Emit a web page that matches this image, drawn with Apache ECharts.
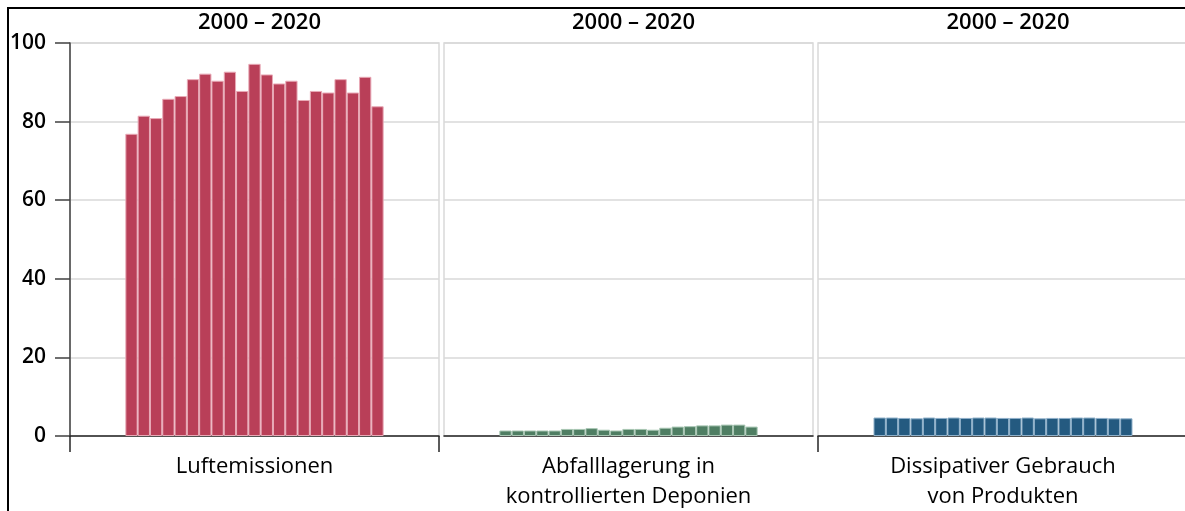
<!DOCTYPE html>
<html><head><meta charset="utf-8">
<script src="https://cdn.jsdelivr.net/npm/echarts@6/dist/echarts.min.js"></script>
<style>
html,body{margin:0;padding:0;background:#fff;overflow:hidden;width:1185px;height:511px}
#c{width:1200px;height:511px}
#f{position:absolute;left:7px;top:7px;width:1178px;height:504px;border-left:2px solid #000;border-top:2px solid #000;pointer-events:none;box-sizing:border-box}
</style>
</head><body><div id="c"></div><div id="f"></div>
<script>
// ---- data ----
const years = [2000,2001,2002,2003,2004,2005,2006,2007,2008,2009,2010,2011,2012,2013,2014,2015,2016,2017,2018,2019,2020];
const categories = ['Luftemissionen', 'Abfalllagerung in\nkontrollierten Deponien', 'Dissipativer Gebrauch\nvon Produkten'];
const periodLabel = '2000 – 2020';
const luftemissionen = [76.9,81.5,80.9,85.8,86.5,90.8,92.2,90.4,92.7,87.8,94.7,92.0,89.7,90.4,85.5,87.8,87.4,90.8,87.4,91.4,83.9];
const abfalllagerung = [1.4,1.4,1.4,1.4,1.4,1.8,1.8,2.0,1.6,1.4,1.8,1.8,1.6,2.1,2.4,2.5,2.7,2.7,2.9,2.9,2.4];
const dissipativ = [4.7,4.7,4.6,4.5,4.7,4.6,4.7,4.6,4.7,4.7,4.6,4.6,4.7,4.5,4.6,4.6,4.7,4.7,4.6,4.5,4.5];
const yTickLabels = [0,20,40,60,80,100];

// ---- layout / style ----
const seriesData = [luftemissionen, abfalllagerung, dissipativ];
const colors = ['#b93f58', '#4f7e63', '#245a80'];
const borderColors = ['#e8a9b6', '#a9c7b4', '#8fb0c9'];
const panelLeft = [70, 444, 818];
const panelW = [369, 369, 370];
const gridTop = 43, gridBottom = 75;
const pad = 5; // empty slots on each side of the bars
const span = years.length - 1 + 2 * pad;
const FONT = 'Open Sans';
const gray = '#d9d9d9';
const dark = '#262626';

const grids = [], xAxes = [], yAxes = [], series = [], titles = [];
for (let k = 0; k < 3; k++) {
  grids.push({left: panelLeft[k], width: panelW[k], top: gridTop, bottom: gridBottom,
    outerBoundsMode: 'none', containLabel: false,
    show: true, borderColor: gray, borderWidth: 1.5, backgroundColor: 'transparent'});
  const tickVals = k === 0 ? [-pad, years.length - 1 + pad] : (k === 2 ? [-pad] : []);
  xAxes.push({type: 'value', gridIndex: k, min: -pad, max: years.length - 1 + pad,
    axisLine: {show: true, onZero: false, lineStyle: {color: dark, width: 1.5}},
    axisTick: {show: tickVals.length > 0, customValues: tickVals, length: 16, inside: false,
      lineStyle: {color: dark, width: 1.5}},
    splitLine: {show: false},
    axisLabel: {customValues: [(years.length - 1) / 2], margin: 16,
      formatter: () => categories[k],
      fontFamily: FONT, fontSize: 22, color: '#000', lineHeight: 30, fontWeight: 500}
  });
  yAxes.push({type: 'value', gridIndex: k, min: 0, max: 100, interval: 20,
    axisLine: {show: k === 0, onZero: false, lineStyle: {color: '#404040', width: 1.5}},
    axisTick: {show: k === 0, length: 15, lineStyle: {color: '#404040', width: 1.5}},
    axisLabel: {show: k === 0, margin: 24, fontFamily: FONT, fontSize: 21, fontWeight: 600, color: '#000',
      formatter: v => yTickLabels.includes(v) ? String(v) : ''},
    splitLine: {show: true, lineStyle: {color: gray, width: 1.5}}
  });
  series.push({type: 'bar', xAxisIndex: k, yAxisIndex: k,
    data: seriesData[k].map((v, i) => [i, v]),
    barWidth: panelW[k] / span,
    itemStyle: {color: colors[k], borderColor: borderColors[k], borderWidth: 1},
    animation: false
  });
  titles.push({text: periodLabel, left: panelLeft[k] + panelW[k] / 2, top: 7, textAlign: 'center',
    textStyle: {fontFamily: FONT, fontSize: 22, fontWeight: 600, color: '#000'}});
}

const chart = echarts.init(document.getElementById('c'), null, {renderer: 'canvas'});
chart.setOption({
  animation: false,
  backgroundColor: '#fff',
  title: titles,
  grid: grids, xAxis: xAxes, yAxis: yAxes, series: series
});
</script>
</body></html>
